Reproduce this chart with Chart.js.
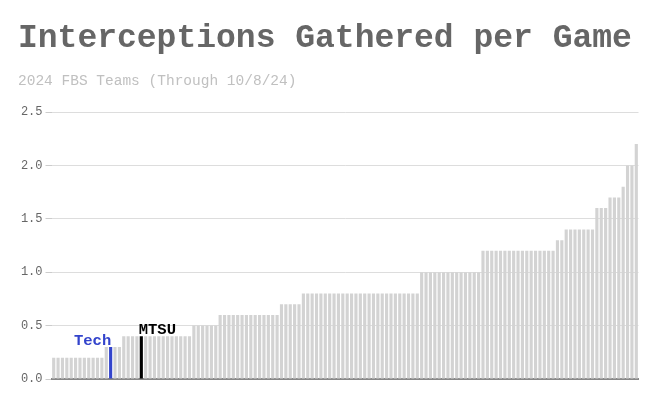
<!DOCTYPE html>
<html>
<head>
<meta charset="utf-8">
<script src="https://cdn.jsdelivr.net/npm/chart.js@4.4.1/dist/chart.umd.min.js"></script>
<style>
  html, body { margin: 0; padding: 0; background: #ffffff; }
  #wrap { width: 660px; height: 408px; position: relative; }
</style>
</head>
<body>
<div id="wrap"><canvas id="c" width="660" height="408"></canvas></div>
<script>
// Interceptions gathered per game, 2024 FBS teams, sorted ascending (134 teams)
const values = [
  0.2,0.2,0.2,0.2,0.2,0.2,0.2,0.2,0.2,0.2,0.2,0.2,
  0.3,0.3,0.3,0.3,
  0.4,0.4,0.4,0.4,0.4,0.4,0.4,0.4,0.4,0.4,0.4,0.4,0.4,0.4,0.4,0.4,
  0.5,0.5,0.5,0.5,0.5,0.5,
  0.6,0.6,0.6,0.6,0.6,0.6,0.6,0.6,0.6,0.6,0.6,0.6,0.6,0.6,
  0.7,0.7,0.7,0.7,0.7,
  0.8,0.8,0.8,0.8,0.8,0.8,0.8,0.8,0.8,0.8,0.8,0.8,0.8,0.8,0.8,0.8,0.8,0.8,0.8,0.8,0.8,0.8,0.8,0.8,0.8,0.8,0.8,
  1.0,1.0,1.0,1.0,1.0,1.0,1.0,1.0,1.0,1.0,1.0,1.0,1.0,1.0,
  1.2,1.2,1.2,1.2,1.2,1.2,1.2,1.2,1.2,1.2,1.2,1.2,1.2,1.2,1.2,1.2,1.2,
  1.3,1.3,
  1.4,1.4,1.4,1.4,1.4,1.4,1.4,
  1.6,1.6,1.6,
  1.7,1.7,1.7,
  1.8,
  2.0,2.0,
  2.2
];
const highlights = [
  { name: "Tech", index: 13, color: "#3344cc", side: "left" },
  { name: "MTSU", index: 20, color: "#000000", side: "right" }
];
const yTicks = [0, 0.5, 1.0, 1.5, 2.0, 2.5];
const titleText = "Interceptions Gathered per Game";
const subtitleText = "2024 FBS Teams (Through 10/8/24)";

const categories = values.map((v, i) => {
  const h = highlights.find(x => x.index === i);
  return h ? h.name : "Team " + (i + 1);
});
const barColors = values.map((v, i) => {
  const h = highlights.find(x => x.index === i);
  return h ? h.color : "#d3d3d3";
});

const labelPlugin = {
  id: "teamLabels",
  afterDatasetsDraw(chart) {
    const ctx = chart.ctx;
    const meta = chart.getDatasetMeta(0);
    ctx.save();
    ctx.font = "bold 15.5px 'Liberation Mono', 'Courier New', monospace";
    ctx.textBaseline = "alphabetic";
    highlights.forEach(h => {
      const el = meta.data[h.index];
      const w = el.width;
      ctx.fillStyle = h.color;
      if (h.side === "left") {
        ctx.textAlign = "right";
        ctx.fillText(h.name, el.x + w / 2 - 1, el.y - 2);
      } else {
        ctx.textAlign = "left";
        ctx.fillText(h.name, el.x - w / 2 - 1, el.y - 2);
      }
    });
    ctx.restore();
  }
};

new Chart(document.getElementById("c"), {
  type: "bar",
  data: {
    labels: categories,
    datasets: [{
      data: values,
      backgroundColor: barColors,
      borderWidth: 0,
      barPercentage: 0.72,
      categoryPercentage: 1.0
    }]
  },
  options: {
    responsive: false,
    animation: false,
    devicePixelRatio: 1,
    layout: { padding: { left: 18, right: 21.5, top: 0, bottom: 29 } },
    plugins: {
      legend: { display: false },
      tooltip: { enabled: false },
      title: {
        display: true,
        text: titleText,
        align: "start",
        color: "#666666",
        font: { family: "'Liberation Mono', 'Courier New', monospace", size: 33, weight: "bold", lineHeight: 1.2 },
        padding: { top: 19, bottom: 13.7 }
      },
      subtitle: {
        display: true,
        text: subtitleText,
        align: "start",
        color: "#c0c0c0",
        font: { family: "'Liberation Mono', 'Courier New', monospace", size: 14.5, weight: "normal", lineHeight: 1.2 },
        padding: { top: 0, bottom: 22.3 }
      }
    },
    scales: {
      x: {
        grid: { display: false },
        ticks: { display: false },
        border: { display: true, color: "#888888", width: 2 },
        afterFit(scale) { scale.height = 0; }
      },
      y: {
        min: 0,
        max: 2.5,
        afterBuildTicks(scale) { scale.ticks = yTicks.map(v => ({ value: v })); },
        ticks: {
          color: "#666666",
          padding: 3,
          font: { family: "'Liberation Mono', 'Courier New', monospace", size: 12 },
          callback: v => Number(v).toFixed(1)
        },
        grid: { color: "#dddddd", tickLength: 6, tickColor: "#cccccc" },
        border: { display: false },
        afterFit(scale) { scale.width = 33.5; }
      }
    }
  },
  plugins: [labelPlugin]
});
</script>
</body>
</html>
